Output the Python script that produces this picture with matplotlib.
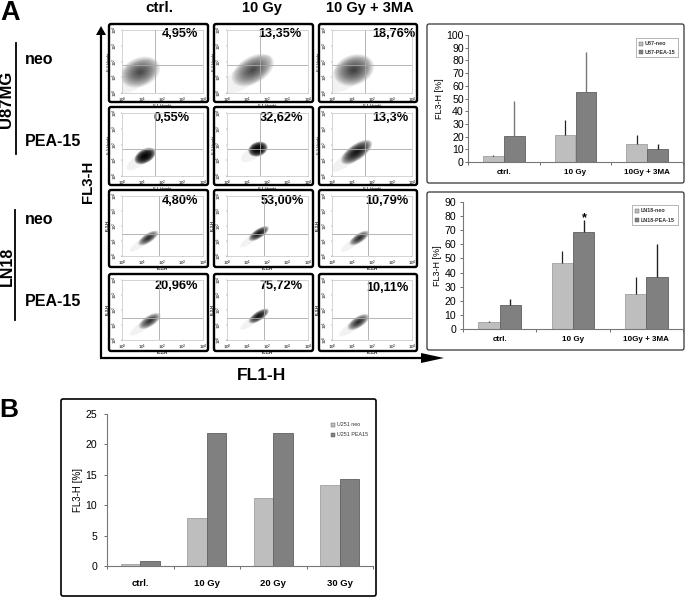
import numpy as np
import matplotlib
matplotlib.use('Agg')
import matplotlib.pyplot as plt
from matplotlib.patches import Ellipse, FancyBboxPatch, Polygon, Rectangle

plt.rcParams['font.family'] = ['Liberation Sans', 'DejaVu Sans']
plt.rcParams['mathtext.default'] = 'regular'

W, H = 685, 597

# bar chart data
u87_groups = ['ctrl.', '10 Gy', '10Gy + 3MA']
u87_neo = [5, 21.5, 14]
u87_pea = [20.5, 55, 10]
u87_neo_err = [0.5, 11.5, 7]
u87_pea_err = [27.5, 31.5, 4.5]

ln18_groups = ['ctrl.', '10 Gy', '10Gy + 3MA']
ln18_neo = [5, 47, 25]
ln18_pea = [17, 68.5, 37]
ln18_neo_err = [0.5, 8.5, 11.5]
ln18_pea_err = [4, 8.5, 23]

u251_groups = ['ctrl.', '10 Gy', '20 Gy', '30 Gy']
u251_neo = [0.35, 7.9, 11.2, 13.3]
u251_pea = [0.85, 21.8, 21.9, 14.3]

# flow panels, row by row
percent = ['4,95%', '13,35%', '18,76%',
           '0,55%', '32,62%', '13,3%',
           '4,80%', '53,00%', '10,79%',
           '20,96%', '75,72%', '10,11%']
cloud_x = [0.90, 1.28, 1.09, 1.14, 1.53, 1.23, 1.30, 1.57, 1.37, 1.37, 1.57, 1.32]
cloud_y = [1.33, 1.46, 1.46, 1.27, 1.71, 1.52, 1.20, 1.50, 1.20, 1.27, 1.60, 1.20]
cloud_long = [2.20, 2.50, 2.20, 1.25, 1.05, 2.00, 1.30, 1.30, 1.30, 1.40, 1.30, 1.40]
cloud_short = [1.70, 1.55, 1.80, 0.80, 0.85, 0.90, 0.55, 0.55, 0.55, 0.65, 0.55, 0.65]
cloud_dark = [0.68, 0.68, 0.72, 0.97, 0.98, 0.90, 0.80, 0.90, 0.80, 0.78, 0.90, 0.80]
gate_x = [1.65, 1.65, 1.65, 1.63, 1.63, 1.63, 1.82, 1.82, 1.82, 1.82, 1.82, 1.82]
gate_y = [1.78, 1.78, 1.78, 1.71, 1.71, 1.71, 1.50, 1.50, 1.50, 1.47, 1.47, 1.47]

col_left = [109, 214, 319]
col_right = [208, 313, 417]
row_top = [24, 107, 190, 274]
row_bottom = [102, 185, 267, 351]
pct_right = [198, 302, 416, 190, 303, 409, 198, 304, 409, 198, 303, 409]
pct_y = [34, 34, 34, 118, 118, 118, 201, 201, 201, 286, 286, 288]

light = '#bebebe'
dark = '#808080'

fig = plt.figure(figsize=(W / 100, H / 100), dpi=100)


def px_axes(x0, y0, x1, y1):
    return fig.add_axes([x0 / W, 1 - y1 / H, (x1 - x0) / W, (y1 - y0) / H])


# background layer in pixel coordinates, for boxes, arrows and labels
bg = fig.add_axes([0, 0, 1, 1])
bg.set_xlim(0, W)
bg.set_ylim(H, 0)
bg.axis('off')


def box(x0, y0, x1, y1, lw, color='black'):
    bg.add_patch(FancyBboxPatch((x0 + 2, y0 + 2), x1 - x0 - 4, y1 - y0 - 4,
                                boxstyle='round,pad=2,rounding_size=2',
                                fc='white', ec=color, lw=lw))


def flow_panel(i):
    r, c = divmod(i, 3)
    x0, x1 = col_left[c], col_right[c]
    y0, y1 = row_top[r], row_bottom[r]
    box(x0, y0, x1, y1, 1.7)
    low = 9 if r < 2 else 11
    ax = px_axes(x0 + 13, y0 + 6, x1 - 5, y1 - low)
    ax.set_xlim(0, 4)
    ax.set_ylim(0, 4)
    ax.patch.set_alpha(0)
    # lighter tail towards the origin, then the denser core
    ax.add_patch(Ellipse((cloud_x[i] - 0.3, cloud_y[i] - 0.3), cloud_long[i] * 1.3,
                         cloud_short[i] * 0.8, angle=45, fc='black', alpha=0.05, lw=0))
    levels = 14
    a = 1 - (1 - cloud_dark[i]) ** (1 / levels)
    for k in range(levels):
        scale = 1 - k / levels
        ax.add_patch(Ellipse((cloud_x[i], cloud_y[i]), cloud_long[i] * scale,
                             cloud_short[i] * scale, angle=45, fc='black', alpha=a, lw=0))
    ax.axvline(gate_x[i], color='#a8a8a8', lw=0.6)
    ax.axhline(gate_y[i], color='#a8a8a8', lw=0.6)
    ax.set_xticks(range(5))
    ax.set_yticks(range(5))
    labels = ['$10^{%d}$' % k for k in range(5)]
    ax.set_xticklabels(labels, fontsize=3.2)
    ax.set_yticklabels(labels, fontsize=3.2, rotation=90, va='center')
    ax.tick_params(length=1, width=0.3, pad=0.8, color='#555555')
    if r < 2:
        ax.set_xlabel('FL1-Height', fontsize=2.8, labelpad=-0.5)
        ax.set_ylabel('FL3-Height', fontsize=2.8, labelpad=0)
    else:
        ax.set_xlabel('FL1-H', fontsize=2.8, labelpad=-0.5, fontweight='bold')
        ax.set_ylabel('FL3-H', fontsize=2.8, labelpad=0, fontweight='bold')
    for s in ax.spines.values():
        s.set_color('#c4c4c4')
        s.set_linewidth(0.5)
    bg.text(pct_right[i], pct_y[i], percent[i], ha='right', va='center',
            fontsize=9.2, fontweight='bold')


def bar_chart(rect, groups, neo, pea, names, ymax, step, neo_err=None, pea_err=None,
              err_cols=None, tick_fs=7.6, cat_fs=5.8, lab_fs=6.5, pad=5, ypad=1.5):
    ax = px_axes(*rect)
    x = np.arange(len(groups)) + 0.5
    w = 0.29
    ax.bar(x - w / 2, neo, w, color=light, edgecolor='#a0a0a0', lw=0.6, label=names[0], zorder=2)
    ax.bar(x + w / 2, pea, w, color=dark, edgecolor='#606060', lw=0.6, label=names[1], zorder=2)
    if neo_err is not None:
        ax.errorbar(x - w / 2, neo, yerr=[[0] * len(neo), neo_err], fmt='none',
                    ecolor='#222222', elinewidth=0.9, capsize=0, zorder=3)
        ax.errorbar(x + w / 2, pea, yerr=[[0] * len(pea), pea_err], fmt='none',
                    ecolor=err_cols, elinewidth=1.0, capsize=0, zorder=3)
    ax.set_xlim(0, len(groups))
    ax.set_ylim(0, ymax)
    ax.set_xticks(range(len(groups) + 1))
    ax.set_xticklabels([])
    ax.set_xticks(x, minor=True)
    ax.set_xticklabels(groups, minor=True, fontsize=cat_fs, fontweight='bold')
    ax.tick_params(axis='x', which='minor', length=0, pad=pad)
    ax.tick_params(axis='x', which='major', length=2, width=0.6, color='#555555')
    ax.set_yticks(np.arange(0, ymax + 1, step))
    ax.tick_params(axis='y', labelsize=tick_fs, length=2, width=0.6, pad=ypad, color='#555555')
    ax.set_ylabel('FL3-H [%]', fontsize=lab_fs, labelpad=2)
    ax.patch.set_alpha(0)
    ax.spines['top'].set_visible(False)
    ax.spines['right'].set_visible(False)
    ax.spines['left'].set_color('#777777')
    ax.spines['bottom'].set_color('#777777')
    return ax


def legend(x0, y0, x1, y1, names, bold, fs, framed=True):
    if framed:
        bg.add_patch(Rectangle((x0, y0), x1 - x0, y1 - y0, fc='white', ec='#999999', lw=0.5, zorder=5))
    ys = [y0 + (y1 - y0) * 0.3, y0 + (y1 - y0) * 0.75]
    for yy, col, name in zip(ys, [light, dark], names):
        bg.add_patch(Rectangle((x0 + 3, yy - 2), 4, 4, fc=col, ec='#555555', lw=0.3, zorder=6))
        bg.text(x0 + 9, yy, name, fontsize=fs, va='center', zorder=6,
                fontweight='bold' if bold else 'normal', color='#333333')


# panel A, flow grid
for i in range(12):
    flow_panel(i)

# panel A, bar boxes
box(427, 24, 684, 183, 0.9, '#333333')
box(427, 192, 684, 350, 0.9, '#333333')
bar_chart((468, 35, 683, 162), u87_groups, u87_neo, u87_pea, ['U87-neo', 'U87-PEA-15'],
          100, 10, u87_neo_err, u87_pea_err, ['#777777', '#777777', '#222222'], ypad=1)
bar_chart((463, 202, 683, 329), ln18_groups, ln18_neo, ln18_pea, ['LN18-neo', 'LN18-PEA-15'],
          90, 10, ln18_neo_err, ln18_pea_err, '#222222', ypad=3)
legend(636, 38, 678, 57, ['U87-neo', 'U87-PEA-15'], True, 3.9)
legend(632, 205, 678, 225, ['LN18-neo', 'LN18-PEA-15'], True, 3.9)
bg.text(584, 218, '*', fontsize=9, fontweight='bold', ha='center', va='center')

# panel B
box(61, 399, 376, 596, 1.2)
bar_chart((107, 414, 373, 566), u251_groups, u251_neo, u251_pea, ['U251 neo', 'U251 PEA15'],
          25, 5, tick_fs=7.6, cat_fs=6.8, lab_fs=7, pad=9, ypad=5)
legend(328, 418, 372, 440, ['U251 neo', 'U251 PEA15'], False, 3.9, framed=False)

# arrows
bg.plot([101, 101], [358, 34], color='black', lw=1.6, solid_capstyle='butt')
bg.plot([100, 423], [358, 358], color='black', lw=1.6, solid_capstyle='butt')
bg.add_patch(Polygon([[96, 35], [106, 35], [101, 26]], fc='black', ec='none'))
bg.add_patch(Polygon([[421, 353], [421, 363], [444, 358]], fc='black', ec='none'))

# labels
bg.text(0, 20, 'A', fontsize=19.5, fontweight='bold', ha='left', va='baseline')
bg.text(-1, 417, 'B', fontsize=19, fontweight='bold', ha='left', va='baseline')
for xc, t, fs in zip([159, 262, 370], ['ctrl.', '10 Gy', '10 Gy + 3MA'], [11, 10.5, 10.5]):
    bg.text(xc, 8, t, fontsize=fs, fontweight='bold', ha='center', va='center')
for yy, t in zip([59, 142, 220, 302], ['neo', 'PEA-15', 'neo', 'PEA-15']):
    bg.text(25, yy, t, fontsize=11.5, fontweight='bold', ha='left', va='center')
bg.plot([16, 16], [43, 154], color='black', lw=1.3)
bg.plot([15, 15], [210, 320], color='black', lw=1.3)
bg.text(7, 99, 'U87MG', fontsize=12, fontweight='bold', rotation=90, ha='center', va='center')
bg.text(7, 266, 'LN18', fontsize=11.5, fontweight='bold', rotation=90, ha='center', va='center')
bg.text(88, 182, 'FL3-H', fontsize=10.8, fontweight='bold', rotation=90, ha='center', va='center')
bg.text(262, 376, 'FL1-H', fontsize=12.5, fontweight='bold', ha='center', va='center')

fig.savefig('out.png', dpi=100)
